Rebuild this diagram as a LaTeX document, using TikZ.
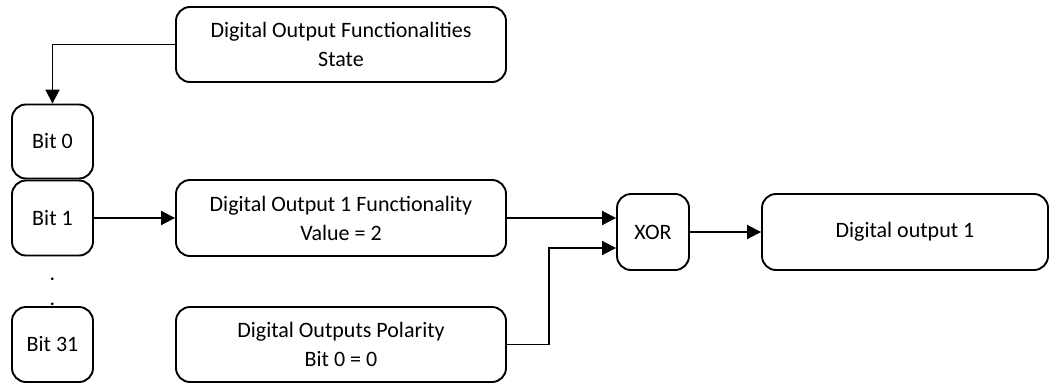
\documentclass[tikz,border=0pt]{standalone}
\usepackage{fontspec}
\setmainfont{Carlito}
\usetikzlibrary{arrows.meta,calc}
\begin{document}
\begin{tikzpicture}[x=1pt,y=-1pt,
  box/.style={draw,line width=1.9pt,rounded corners=14pt,inner sep=0pt,align=center,
    font=\fontsize{22}{29}\selectfont},
  conn/.style={line width=1.9pt,-{Triangle[length=14pt,width=14pt]}},
  dotlbl/.style={inner sep=0pt,anchor=base,font=\fontsize{22}{29}\selectfont}]
\useasboundingbox (0,0) rectangle (1054,383);
\node[box,minimum width=330pt,minimum height=75pt] (top) at (341,44.5) {Digital Output Functionalities\\State};
\node[box,minimum width=81pt,minimum height=74pt] (bit0) at (52.5,141.5) {Bit 0};
\node[box,minimum width=81pt,minimum height=75pt] (bit1) at (52.5,218) {Bit 1};
\node[box,minimum width=81pt,minimum height=75pt] (bit31) at (52.5,344.5) {Bit 31};
\node[box,minimum width=330pt,minimum height=76pt] (func) at (341,218) {Digital Output 1 Functionality\\Value = 2};
\node[box,minimum width=330pt,minimum height=75pt] (pol) at (341,344.5) {Digital Outputs Polarity\\Bit 0 = 0};
\node[box,minimum width=72pt,minimum height=76pt] (xor) at (653,232) {XOR};
\node[box,minimum width=286pt,minimum height=76pt] (out) at (905,232) {Digital output 1};
\node[dotlbl] (d1) at (52.5,280) {.};
\node[dotlbl] (d2) at (52.5,305) {.};
\draw[conn] (top.west) -| (bit0.north);
\draw[conn] (bit1.east) -- (bit1.east -| func.west);
\draw[conn] (func.east) -- (func.east -| xor.west);
\coordinate (pin) at ($(xor.west)+(0,16)$);
\draw[conn] (pol.east) -- ++(42,0) |- (pin);
\draw[conn] (xor.east) -- (out.west);
\end{tikzpicture}
\end{document}
